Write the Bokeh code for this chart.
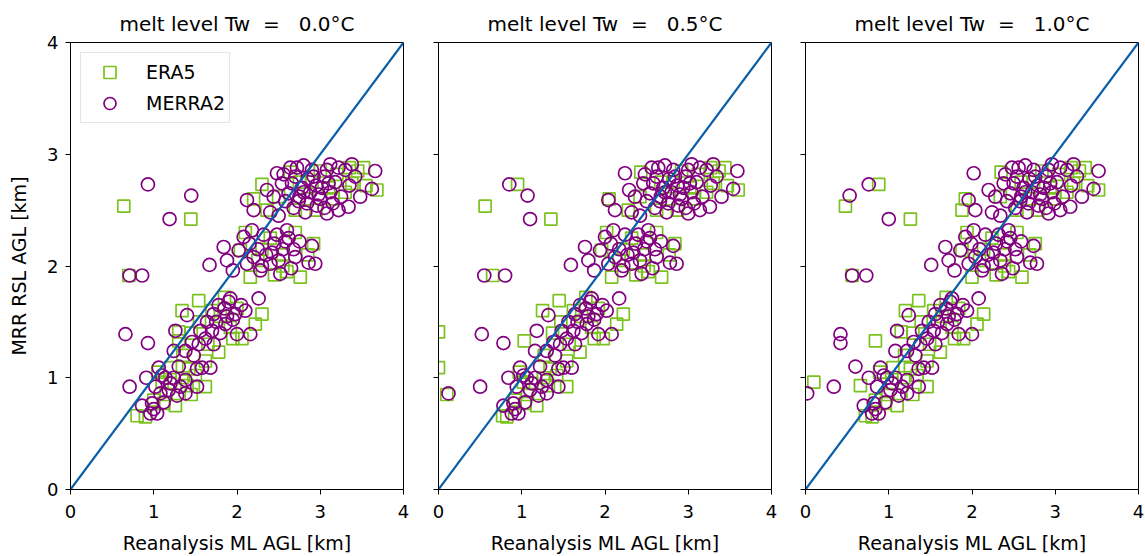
from bokeh.plotting import figure
from bokeh.layouts import row
from bokeh.models import Range1d, FixedTicker
from bokeh.embed import file_html
from bokeh.resources import INLINE

# ---------------- data ----------------
panel_titles = ["melt level Tw\u00a0\u00a0=\u00a0\u00a0\u00a00.0°C",
                "melt level Tw\u00a0\u00a0=\u00a0\u00a0\u00a00.5°C",
                "melt level Tw\u00a0\u00a0=\u00a0\u00a0\u00a01.0°C"]
axis_ticks = [0, 1, 2, 3, 4]
one_to_one = [0, 4]

# MRR RSL height (same observations in every panel)
merra2_y = [2.83, 2.74, 2.68, 2.59, 2.50, 2.48, 2.90, 2.91, 2.91, 2.85, 2.69, 2.62, 2.53, 2.50, 2.47, 2.54,
            2.80, 2.78, 2.72, 2.80, 2.75, 2.86, 2.65, 2.62, 2.66, 2.60, 2.66, 2.52, 2.48, 2.58, 2.62, 2.86,
            2.70, 2.70, 2.80, 2.45, 2.56, 2.88, 2.73, 2.63, 2.42, 2.26, 2.32, 2.17, 2.05, 2.14, 2.18, 2.02,
            2.03, 1.93, 1.96, 2.10, 2.20, 2.15, 2.25, 2.02, 2.08, 2.15, 2.05, 1.98, 2.02, 2.22, 2.28, 2.01,
            1.96, 2.32, 1.915, 1.915, 1.39, 1.31, 0.92, 1.00, 1.71, 1.39, 1.71, 1.65, 1.57, 1.56, 1.42, 1.24,
            1.24, 1.30, 1.42, 1.48, 1.57, 1.39, 1.09, 1.09, 1.08, 1.62, 1.52, 1.35, 1.40, 1.20, 1.68, 1.65,
            1.50, 1.00, 1.09, 1.00, 0.98, 0.92, 0.86, 0.89, 0.92, 0.75, 0.77, 0.68, 0.68, 0.84, 0.86, 1.10,
            0.78, 2.88, 2.80, 2.86, 2.88, 2.64, 2.56, 2.74, 2.74, 2.66, 2.72, 2.82, 2.52, 2.58, 2.62, 2.08,
            2.12, 2.22, 2.00, 2.15, 2.28, 2.20, 1.50, 1.55, 1.32, 1.30, 1.60, 1.42, 0.95, 0.92, 1.02, 0.72]
merra2_x_tw00 = [2.48, 2.54, 2.36, 2.12, 2.20, 2.40, 2.80, 3.12, 3.38, 3.66, 3.62, 3.48, 3.34, 3.22, 3.08, 2.96,
                 2.70, 2.85, 2.95, 3.05, 3.18, 3.30, 2.62, 2.75, 2.88, 3.00, 3.12, 2.68, 2.82, 2.58, 3.25, 2.90,
                 3.02, 2.78, 3.42, 2.50, 3.15, 2.64, 0.93, 1.45, 1.19, 2.08, 2.18, 1.84, 1.88, 2.02, 2.90, 2.94,
                 2.86, 2.52, 2.28, 2.35, 2.45, 2.55, 2.62, 2.40, 2.70, 2.25, 2.50, 2.65, 2.12, 2.75, 2.32, 1.67,
                 1.95, 2.60, 0.71, 0.86, 0.66, 0.93, 0.71, 0.91, 2.26, 2.16, 1.92, 1.78, 1.72, 1.40, 1.26, 1.24,
                 1.38, 1.54, 1.70, 1.86, 1.98, 2.00, 1.58, 1.68, 1.52, 1.85, 1.95, 1.62, 1.80, 1.48, 1.90, 2.05,
                 1.75, 1.14, 1.06, 1.24, 1.38, 1.52, 1.38, 1.18, 1.02, 0.86, 0.98, 0.96, 1.04, 1.28, 1.08, 1.30,
                 1.12, 2.72, 2.92, 3.08, 3.22, 2.98, 2.84, 3.10, 2.66, 2.80, 3.35, 2.56, 3.05, 2.74, 2.44, 2.20,
                 2.42, 2.58, 2.30, 2.68, 2.48, 2.15, 1.64, 1.88, 1.46, 1.72, 2.10, 1.56, 1.20, 1.32, 1.10, 1.00]
merra2_x_tw05 = [2.24, 2.46, 2.29, 2.04, 2.12, 2.32, 2.72, 3.04, 3.30, 3.59, 3.54, 3.40, 3.26, 3.14, 3.00, 2.88,
                 2.62, 2.77, 2.87, 2.97, 3.10, 3.22, 2.54, 2.67, 2.80, 2.92, 3.04, 2.60, 2.74, 2.50, 3.17, 2.82,
                 2.94, 2.70, 3.34, 2.42, 3.07, 2.56, 0.85, 1.07, 1.10, 2.00, 2.10, 1.76, 1.80, 1.94, 2.82, 2.86,
                 2.78, 2.44, 2.20, 2.27, 2.37, 2.47, 2.54, 2.32, 2.62, 2.17, 2.42, 2.57, 2.04, 2.67, 2.24, 1.59,
                 1.87, 2.52, 0.55, 0.80, 0.52, 0.78, 0.50, 0.84, 2.17, 2.08, 1.84, 1.70, 1.64, 1.32, 1.18, 1.16,
                 1.30, 1.46, 1.62, 1.78, 1.90, 1.92, 1.50, 1.60, 1.44, 1.77, 1.87, 1.54, 1.72, 1.40, 1.82, 1.97,
                 1.67, 1.06, 0.98, 1.16, 1.30, 1.44, 1.30, 1.10, 0.94, 0.78, 0.90, 0.88, 0.96, 1.20, 0.12, 1.22,
                 1.04, 2.64, 2.84, 3.00, 3.14, 2.90, 2.76, 3.02, 2.58, 2.72, 3.27, 2.48, 2.97, 2.66, 2.36, 2.12,
                 2.34, 2.50, 2.22, 2.60, 2.40, 2.07, 1.56, 1.80, 1.38, 1.64, 2.02, 1.48, 1.12, 1.24, 1.02, 0.92]
merra2_x_tw10 = [2.02, 2.38, 2.20, 1.96, 2.04, 2.24, 2.64, 2.96, 3.22, 3.52, 3.46, 3.32, 3.18, 3.06, 2.92, 2.80,
                 2.54, 2.69, 2.79, 2.89, 3.02, 3.14, 2.46, 2.59, 2.72, 2.84, 2.96, 2.52, 2.66, 2.42, 3.09, 2.74,
                 2.86, 2.62, 3.26, 2.34, 2.99, 2.48, 0.76, 0.53, 1.00, 1.92, 2.02, 1.68, 1.72, 1.86, 2.74, 2.78,
                 2.70, 2.36, 2.12, 2.19, 2.29, 2.39, 2.46, 2.24, 2.54, 2.09, 2.34, 2.49, 1.96, 2.59, 2.16, 1.51,
                 1.79, 2.44, 0.56, 0.73, 0.42, 0.42, 0.34, 0.76, 2.08, 2.00, 1.76, 1.62, 1.56, 1.24, 1.10, 1.08,
                 1.22, 1.38, 1.54, 1.70, 1.82, 1.84, 1.42, 1.52, 1.36, 1.69, 1.79, 1.46, 1.64, 1.32, 1.74, 1.89,
                 1.59, 0.98, 0.90, 1.08, 1.22, 1.36, 1.22, 1.02, 0.86, 0.70, 0.82, 0.80, 0.88, 1.12, 0.02, 0.60,
                 0.96, 2.56, 2.76, 2.92, 3.06, 2.82, 2.68, 2.94, 2.50, 2.64, 3.19, 2.40, 2.89, 2.58, 2.28, 2.04,
                 2.26, 2.42, 2.14, 2.52, 2.32, 1.99, 1.48, 1.72, 1.30, 1.56, 1.94, 1.40, 1.04, 1.16, 0.94, 0.84]

era5_y = [2.535, 2.42, 2.60, 2.88, 2.68, 2.74, 2.50, 2.84, 2.20, 2.14, 1.90, 1.90, 2.73, 2.85, 2.82, 2.60,
          2.70, 2.66, 2.62, 2.75, 2.85, 2.72, 2.25, 2.10, 2.30, 2.05, 1.95, 2.10, 2.30, 1.92, 1.915, 1.69,
          1.60, 1.33, 1.23, 1.35, 1.57, 1.48, 1.15, 1.08, 1.45, 1.60, 1.72, 1.62, 1.40, 1.30, 1.35, 1.50,
          1.41, 0.92, 0.75, 0.66, 0.65, 0.77, 1.00, 0.85, 0.95, 1.05, 1.02, 1.09, 0.80, 0.93, 0.96,
          2.75, 2.60, 2.50, 2.88, 2.00, 2.15, 1.55, 1.20, 0.85, 2.50]
era5_x_tw00 = [0.64, 1.445, 2.20, 3.52, 3.68, 3.38, 2.36, 2.64, 2.92, 2.04, 2.16, 2.76, 2.30, 3.00, 3.20, 2.85,
               3.10, 3.30, 2.50, 2.75, 3.45, 3.55, 2.40, 2.55, 2.70, 2.25, 2.60, 2.85, 2.10, 2.45, 0.70, 1.54,
               1.34, 1.30, 1.78, 2.06, 2.30, 2.22, 1.62, 1.42, 1.92, 1.70, 1.85, 2.00, 1.45, 1.65, 1.95, 1.55,
               1.30, 1.62, 1.26, 0.80, 0.90, 1.12, 1.34, 1.45, 1.20, 1.05, 1.50, 1.20, 1.00, 1.40, 1.10,
               2.90, 3.15, 2.70, 3.35, 2.55, 2.30, 1.80, 1.35, 1.15, 2.95]
era5_x_tw05 = [0.56, 1.35, 2.05, 3.44, 3.60, 3.30, 2.28, 2.43, 2.84, 1.96, 2.08, 2.68, 0.95, 2.92, 3.12, 2.77,
               3.02, 3.22, 2.42, 2.67, 3.37, 3.47, 2.32, 2.47, 2.62, 2.17, 2.52, 2.77, 2.02, 2.37, 0.65, 1.45,
               1.25, 1.03, 1.70, 1.98, 2.22, 2.14, 1.54, 1.34, 1.84, 1.62, 1.77, 1.92, 1.37, 1.57, 1.87, 1.47,
               0.00, 1.54, 1.18, 0.77, 0.82, 1.04, 1.26, 0.10, 1.12, 0.97, 1.42, 0.00, 0.92, 1.32, 1.02,
               2.82, 3.07, 2.62, 3.27, 2.47, 2.22, 1.72, 1.27, 1.07, 2.87]
era5_x_tw10 = [0.48, 1.26, 1.92, 3.36, 3.52, 3.22, 1.88, 2.35, 2.76, 1.88, 2.00, 2.60, 0.88, 2.84, 3.04, 2.69,
               2.94, 3.14, 2.34, 2.59, 3.29, 3.39, 2.24, 2.39, 2.54, 2.09, 2.44, 2.69, 1.94, 2.29, 0.56, 1.36,
               1.20, 0.84, 1.62, 1.90, 2.14, 2.06, 1.46, 1.26, 1.76, 1.54, 1.69, 1.84, 1.29, 1.49, 1.79, 1.39,
               1.15, 1.46, 1.10, 0.72, 0.80, 0.96, 1.18, 1.29, 1.04, 0.89, 1.34, 1.05, 0.84, 0.66, 0.10,
               2.74, 2.99, 2.54, 3.19, 2.39, 2.14, 1.64, 1.19, 0.99, 2.79]

era5_panels = [era5_x_tw00, era5_x_tw05, era5_x_tw10]
merra2_panels = [merra2_x_tw00, merra2_x_tw05, merra2_x_tw10]

# ---------------- style ----------------
FONT = "DejaVu Sans"
GREEN = "#7cc21e"
PURPLE = "#800080"
BLUE = "#0b5ea8"

borders = [(70, 8), (27, 8), (26, 6)]


def make_panel(i):
    left, right = borders[i]
    p = figure(frame_width=333, frame_height=447,
               x_range=Range1d(0, 4), y_range=Range1d(0, 4),
               output_backend="svg", toolbar_location=None,
               min_border_left=left, min_border_right=right,
               min_border_top=42, min_border_bottom=50,
               title=panel_titles[i])
    p.title.align = "center"
    p.title.text_font = FONT
    p.title.text_font_size = "20px"
    p.title.text_font_style = "normal"
    p.title.text_color = "black"
    p.title.standoff = 13

    p.xgrid.visible = False
    p.ygrid.visible = False
    p.outline_line_color = "black"
    p.outline_line_width = 1
    p.outline_line_alpha = 1
    p.background_fill_color = "white"
    p.border_fill_color = "white"

    for ax in (p.xaxis[0], p.yaxis[0]):
        ax.ticker = FixedTicker(ticks=axis_ticks)
        ax.axis_line_color = "black"
        ax.major_tick_line_color = "black"
        ax.major_tick_out = 5
        ax.major_tick_in = 0
        ax.minor_tick_line_color = None
        ax.major_label_text_font = FONT
        ax.major_label_text_font_size = "18px"
        ax.major_label_text_color = "black"
        ax.axis_label_text_font = FONT
        ax.axis_label_text_font_size = "19px"
        ax.axis_label_text_font_style = "normal"
        ax.axis_label_text_color = "black"

    p.xaxis.major_label_standoff = 10
    p.yaxis.major_label_standoff = 7
    p.xaxis.axis_label = "Reanalysis ML AGL [km]"
    p.xaxis.axis_label_standoff = 11
    if i == 0:
        p.yaxis.axis_label = "MRR RSL AGL [km]"
        p.yaxis.axis_label_standoff = 14
    else:
        p.yaxis.major_label_overrides = {t: "" for t in axis_ticks}

    kw_e = dict(marker="square", size=12, fill_color=None, line_color=GREEN, line_width=1.7)
    kw_m = dict(marker="circle", size=13, fill_color=None, line_color=PURPLE, line_width=1.7)
    if i == 0:
        p.scatter(era5_panels[i], era5_y, legend_label="ERA5", **kw_e)
        p.scatter(merra2_panels[i], merra2_y, legend_label="MERRA2", **kw_m)
    else:
        p.scatter(era5_panels[i], era5_y, **kw_e)
        p.scatter(merra2_panels[i], merra2_y, **kw_m)
    p.line(one_to_one, one_to_one, line_color=BLUE, line_width=2.2)

    if i == 0:
        lg = p.legend[0]
        lg.location = "top_left"
        lg.margin = 10
        lg.padding = 4
        lg.spacing = 1
        lg.glyph_width = 49
        lg.glyph_height = 30
        lg.label_height = 20
        lg.label_standoff = 12
        lg.label_text_font = FONT
        lg.label_text_font_size = "19px"
        lg.label_text_color = "black"
        lg.border_line_color = "#cccccc"
        lg.border_line_width = 1
        lg.background_fill_alpha = 0.8
    return p


panels = [make_panel(i) for i in range(3)]
layout = row(*panels, spacing=0)

open("out.html", "w").write(file_html(layout, INLINE))
